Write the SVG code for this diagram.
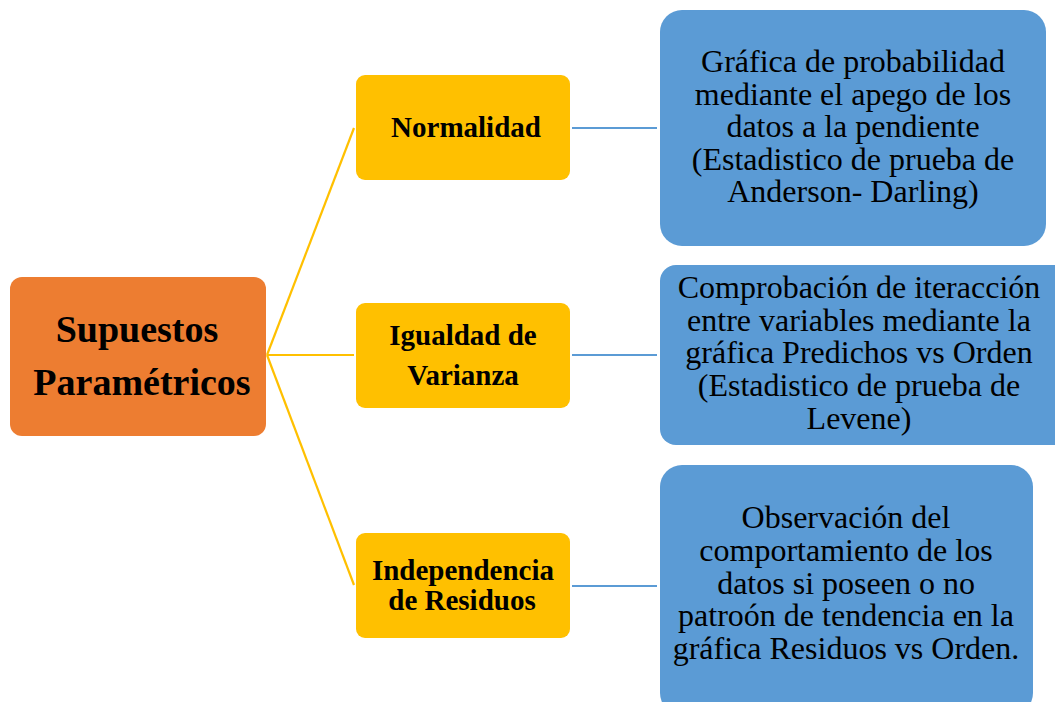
<svg xmlns="http://www.w3.org/2000/svg" width="1055" height="702" viewBox="0 0 1055 702">
<style>
.root{fill:#ED7D31}
.mid{fill:#FFC000}
.leaf{fill:#5B9BD5}
text{font-family:'Liberation Serif','Times New Roman','DejaVu Serif',serif;fill:#000;text-anchor:middle}
.b{font-weight:bold}
.m{font-size:29px;font-weight:bold}
.l{font-size:32px}
.y{stroke:#FFC000;stroke-width:2.2;fill:none}
.bl{stroke:#5B9BD5;stroke-width:2.2;fill:none}
</style>
<rect width="1055" height="702" fill="#fff"/>
<g id="connectors">
<line class="y" x1="267" y1="355" x2="354" y2="128"/>
<line class="y" x1="267" y1="355" x2="354" y2="355"/>
<line class="y" x1="267" y1="355" x2="354" y2="585"/>
<line class="bl" x1="572" y1="128" x2="657" y2="128"/>
<line class="bl" x1="572" y1="355" x2="657" y2="355"/>
<line class="bl" x1="572" y1="586" x2="657" y2="586"/>
</g>
<g id="root">
<rect class="root" x="10" y="277" width="256" height="159" rx="12"/>
<text class="b" font-size="38" x="137" y="342">Supuestos</text>
<text class="b" font-size="38" x="142" y="395">Paramétricos</text>
</g>
<g id="normalidad">
<rect class="mid" x="356" y="75" width="214" height="105" rx="9"/>
<text class="m" x="466" y="137">Normalidad</text>
</g>
<g id="igualdad">
<rect class="mid" x="356" y="303" width="214" height="105" rx="9"/>
<text class="m" x="463" y="345">Igualdad de</text>
<text class="m" x="463" y="385">Varianza</text>
</g>
<g id="independencia">
<rect class="mid" x="356" y="533" width="214" height="105" rx="9"/>
<text class="m" x="463" y="580">Independencia</text>
<text class="m" x="462" y="610">de Residuos</text>
</g>
<g id="leaf1">
<rect class="leaf" x="660" y="10" width="386" height="236" rx="22"/>
<text class="l" x="853" y="72">Gráfica de probabilidad</text>
<text class="l" x="853" y="104.5">mediante el apego de los</text>
<text class="l" x="853" y="137">datos a la pendiente</text>
<text class="l" x="853" y="169.5">(Estadistico de prueba de</text>
<text class="l" x="853" y="202">Anderson- Darling)</text>
</g>
<g id="leaf2">
<rect class="leaf" x="660" y="265" width="410" height="180" rx="16"/>
<text class="l" x="859" y="298">Comprobación de iteracción</text>
<text class="l" x="859" y="330.5">entre variables mediante la</text>
<text class="l" x="859" y="363">gráfica Predichos vs Orden</text>
<text class="l" x="859" y="396">(Estadistico de prueba de</text>
<text class="l" x="859" y="429">Levene)</text>
</g>
<g id="leaf3">
<rect class="leaf" x="660" y="465" width="373" height="250" rx="22"/>
<text class="l" x="846" y="528">Observación del</text>
<text class="l" x="846" y="561">comportamiento de los</text>
<text class="l" x="846" y="593.5">datos si poseen o no</text>
<text class="l" x="846" y="626">patroón de tendencia en la</text>
<text class="l" x="846" y="659">gráfica Residuos vs Orden.</text>
</g>
</svg>
